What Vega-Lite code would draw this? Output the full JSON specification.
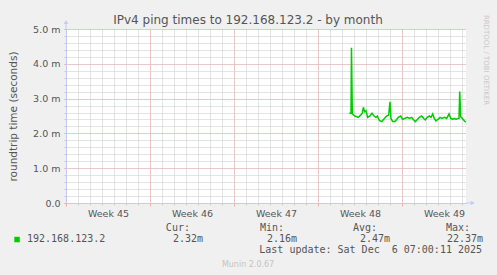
{
  "$schema": "https://vega.github.io/schema/vega-lite/v6.json",
  "width": 400,
  "height": 174,
  "autosize": {"type": "none"},
  "padding": {"left": 66, "top": 29, "right": 31, "bottom": 72},
  "background": "#F0F0F0",
  "view": {"fill": "#FFFFFF", "stroke": null},
  "title": {"text": "IPv4 ping times to 192.168.123.2 - by month", "font": "DejaVu Sans", "fontSize": 12, "fontWeight": "normal", "color": "#555555", "anchor": "middle", "dx": -18, "offset": -12},
  "datasets": {
    "ping": [
      {"day": 23.61, "rtt": 2.58}, {"day": 23.75, "rtt": 2.58}, {"day": 23.79, "rtt": 4.46}, {"day": 23.86, "rtt": 2.56},
      {"day": 24.08, "rtt": 2.50}, {"day": 24.36, "rtt": 2.46}, {"day": 24.56, "rtt": 2.53}, {"day": 24.69, "rtt": 2.58},
      {"day": 24.78, "rtt": 2.75}, {"day": 24.89, "rtt": 2.62}, {"day": 25.00, "rtt": 2.65}, {"day": 25.14, "rtt": 2.46},
      {"day": 25.33, "rtt": 2.50}, {"day": 25.50, "rtt": 2.58}, {"day": 25.67, "rtt": 2.50}, {"day": 25.83, "rtt": 2.46},
      {"day": 25.94, "rtt": 2.50}, {"day": 26.11, "rtt": 2.37}, {"day": 26.31, "rtt": 2.34}, {"day": 26.53, "rtt": 2.43},
      {"day": 26.72, "rtt": 2.50}, {"day": 26.89, "rtt": 2.53}, {"day": 27.00, "rtt": 2.91}, {"day": 27.08, "rtt": 2.43},
      {"day": 27.22, "rtt": 2.34}, {"day": 27.42, "rtt": 2.34}, {"day": 27.56, "rtt": 2.40}, {"day": 27.69, "rtt": 2.46},
      {"day": 27.89, "rtt": 2.50}, {"day": 28.06, "rtt": 2.40}, {"day": 28.22, "rtt": 2.43}, {"day": 28.44, "rtt": 2.46},
      {"day": 28.61, "rtt": 2.43}, {"day": 28.81, "rtt": 2.46}, {"day": 28.94, "rtt": 2.40}, {"day": 29.11, "rtt": 2.34},
      {"day": 29.28, "rtt": 2.40}, {"day": 29.44, "rtt": 2.46}, {"day": 29.64, "rtt": 2.50}, {"day": 29.81, "rtt": 2.43},
      {"day": 29.94, "rtt": 2.39}, {"day": 30.11, "rtt": 2.46}, {"day": 30.28, "rtt": 2.50}, {"day": 30.42, "rtt": 2.46},
      {"day": 30.56, "rtt": 2.56}, {"day": 30.69, "rtt": 2.43}, {"day": 30.83, "rtt": 2.36}, {"day": 31.00, "rtt": 2.40},
      {"day": 31.17, "rtt": 2.46}, {"day": 31.33, "rtt": 2.43}, {"day": 31.53, "rtt": 2.46}, {"day": 31.72, "rtt": 2.43},
      {"day": 31.92, "rtt": 2.56}, {"day": 32.06, "rtt": 2.43}, {"day": 32.22, "rtt": 2.40}, {"day": 32.36, "rtt": 2.43},
      {"day": 32.50, "rtt": 2.40}, {"day": 32.67, "rtt": 2.43}, {"day": 32.75, "rtt": 2.43}, {"day": 32.81, "rtt": 3.20},
      {"day": 32.89, "rtt": 2.48}, {"day": 33.03, "rtt": 2.43}, {"day": 33.17, "rtt": 2.37}, {"day": 33.31, "rtt": 2.32}
    ],
    "stats": [
      {"host": "192.168.123.2", "cur": "2.32m", "min": "2.16m", "avg": "2.47m", "max": "22.37m", "updated": "Last update: Sat Dec \u00a06 07:00:11 2025", "version": "Munin 2.0.67", "credit": "RRDTOOL / TOBI OETIKER"}
    ]
  },
  "resolve": {"axis": {"x": "independent", "y": "independent"}},
  "layer": [
    {
      "data": {"name": "ping"},
      "mark": {"type": "line", "opacity": 0},
      "encoding": {
        "x": {"field": "day", "type": "quantitative", "scale": {"domain": [0, 33.3333], "nice": false, "zero": false},
          "axis": {"orient": "bottom", "values": [0,1,2,3,4,5,6,7,8,9,10,11,12,13,14,15,16,17,18,19,20,21,22,23,24,25,26,27,28,29,30,31,32,33], "grid": true, "gridColor": "#C8C8C8", "gridDash": [1, 1], "labels": false, "ticks": true, "tickColor": "#C8C8C8", "tickSize": 2, "domain": false, "title": null}},
        "y": {"field": "rtt", "type": "quantitative", "scale": {"domain": [0, 5], "nice": false, "zero": true},
          "axis": {"orient": "left", "values": [0,0.2,0.4,0.6,0.8,1,1.2,1.4,1.6,1.8,2,2.2,2.4,2.6,2.8,3,3.2,3.4,3.6,3.8,4,4.2,4.4,4.6,4.8,5], "grid": true, "gridColor": "#C8C8C8", "gridDash": [1, 1], "labels": false, "ticks": true, "tickColor": "#C8C8C8", "tickSize": 2, "domain": false, "title": null}}
      }
    },
    {
      "data": {"name": "ping"},
      "mark": {"type": "line", "opacity": 0},
      "encoding": {
        "x": {"field": "day", "type": "quantitative",
          "axis": {"orient": "bottom", "values": [0, 7, 14, 21, 28], "grid": true, "gridColor": "#F4AAAA", "gridDash": [1, 1], "labels": false, "ticks": true, "tickColor": "#F4AAAA", "tickSize": 3, "domain": false, "title": null}},
        "y": {"field": "rtt", "type": "quantitative",
          "axis": {"orient": "left", "values": [0, 1, 2, 3, 4, 5], "grid": true, "gridColor": "#F4AAAA", "gridDash": [1, 1], "ticks": true, "tickColor": "#F4AAAA", "tickSize": 2, "domain": false,
            "labelExpr": "datum.value == 0 ? '0.0' : format(datum.value, '.1f') + ' m'", "labelFont": "DejaVu Sans", "labelFontSize": 9.5, "labelColor": "#555555", "labelPadding": 4,
            "title": "roundtrip time (seconds)", "titleFont": "DejaVu Sans", "titleFontSize": 10.5, "titleFontWeight": "normal", "titleColor": "#555555", "titlePadding": 14}}
      }
    },
    {
      "data": {"name": "ping"},
      "mark": {"type": "line", "color": "#00CC00", "strokeWidth": 1.5},
      "encoding": {
        "x": {"field": "day", "type": "quantitative",
          "axis": {"orient": "bottom", "values": [3.5, 10.5, 17.5, 24.5, 31.5], "labelExpr": "'Week ' + (45 + floor(datum.value / 7))", "grid": false, "ticks": false, "domain": true, "domainColor": "#C8C8F8", "domainWidth": 1, "labelFont": "DejaVu Sans", "labelFontSize": 9.5, "labelColor": "#555555", "labelPadding": 5, "title": null}},
        "y": {"field": "rtt", "type": "quantitative",
          "axis": {"orient": "left", "values": [], "grid": false, "ticks": false, "labels": false, "domain": true, "domainColor": "#C8C8F8", "domainWidth": 1, "title": null}}
      }
    },
    {
      "data": {"values": [{}]},
      "mark": {"type": "rule", "color": "#C8C8F8"},
      "encoding": {"x": {"datum": 0, "axis": null}, "y": {"datum": 5, "axis": null}, "y2": {"datum": 5.2}}
    },
    {
      "data": {"values": [{}]},
      "mark": {"type": "rule", "color": "#C8C8F8"},
      "encoding": {"x": {"datum": 33.3333, "axis": null}, "x2": {"datum": 33.9}, "y": {"datum": 0, "axis": null}}
    },
    {
      "data": {"values": [{}]},
      "mark": {"type": "point", "shape": "triangle-up", "filled": true, "color": "#C8C8F8", "size": 22, "opacity": 1},
      "encoding": {"x": {"datum": 0, "axis": null}, "y": {"datum": 5.2, "axis": null}}
    },
    {
      "data": {"values": [{}]},
      "mark": {"type": "point", "shape": "triangle-right", "filled": true, "color": "#C8C8F8", "size": 22, "opacity": 1},
      "encoding": {"x": {"datum": 33.9, "axis": null}, "y": {"datum": 0, "axis": null}}
    },
    {
      "data": {"values": [{}]},
      "mark": {"type": "point", "shape": "square", "filled": true, "color": "#00CC00", "size": 30, "opacity": 1},
      "encoding": {"x": {"datum": -4.08, "axis": null}, "y": {"datum": -1.05, "axis": null}}
    },
    {
      "data": {"values": [{}]},
      "mark": {"type": "text", "text": "Cur:", "font": "DejaVu Sans Mono", "fontSize": 10, "color": "#555555", "align": "right", "baseline": "alphabetic"},
      "encoding": {"x": {"datum": 10.33, "axis": null}, "y": {"datum": -0.805, "axis": null}}
    },
    {
      "data": {"values": [{}]},
      "mark": {"type": "text", "text": "Min:", "font": "DejaVu Sans Mono", "fontSize": 10, "color": "#555555", "align": "right", "baseline": "alphabetic"},
      "encoding": {"x": {"datum": 18.17, "axis": null}, "y": {"datum": -0.805, "axis": null}}
    },
    {
      "data": {"values": [{}]},
      "mark": {"type": "text", "text": "Avg:", "font": "DejaVu Sans Mono", "fontSize": 10, "color": "#555555", "align": "right", "baseline": "alphabetic"},
      "encoding": {"x": {"datum": 25.92, "axis": null}, "y": {"datum": -0.805, "axis": null}}
    },
    {
      "data": {"values": [{}]},
      "mark": {"type": "text", "text": "Max:", "font": "DejaVu Sans Mono", "fontSize": 10, "color": "#555555", "align": "right", "baseline": "alphabetic"},
      "encoding": {"x": {"datum": 33.67, "axis": null}, "y": {"datum": -0.805, "axis": null}}
    },
    {
      "data": {"name": "stats"},
      "mark": {"type": "text", "font": "DejaVu Sans Mono", "fontSize": 10, "color": "#555555", "align": "left", "baseline": "alphabetic"},
      "encoding": {"text": {"field": "host"}, "x": {"datum": -3.25, "axis": null}, "y": {"datum": -1.135, "axis": null}}
    },
    {
      "data": {"name": "stats"},
      "mark": {"type": "text", "font": "DejaVu Sans Mono", "fontSize": 10, "color": "#555555", "align": "right", "baseline": "alphabetic"},
      "encoding": {"text": {"field": "cur"}, "x": {"datum": 11.42, "axis": null}, "y": {"datum": -1.135, "axis": null}}
    },
    {
      "data": {"name": "stats"},
      "mark": {"type": "text", "font": "DejaVu Sans Mono", "fontSize": 10, "color": "#555555", "align": "right", "baseline": "alphabetic"},
      "encoding": {"text": {"field": "min"}, "x": {"datum": 19.25, "axis": null}, "y": {"datum": -1.135, "axis": null}}
    },
    {
      "data": {"name": "stats"},
      "mark": {"type": "text", "font": "DejaVu Sans Mono", "fontSize": 10, "color": "#555555", "align": "right", "baseline": "alphabetic"},
      "encoding": {"text": {"field": "avg"}, "x": {"datum": 27.0, "axis": null}, "y": {"datum": -1.135, "axis": null}}
    },
    {
      "data": {"name": "stats"},
      "mark": {"type": "text", "font": "DejaVu Sans Mono", "fontSize": 10, "color": "#555555", "align": "right", "baseline": "alphabetic"},
      "encoding": {"text": {"field": "max"}, "x": {"datum": 34.75, "axis": null}, "y": {"datum": -1.135, "axis": null}}
    },
    {
      "data": {"name": "stats"},
      "mark": {"type": "text", "font": "DejaVu Sans Mono", "fontSize": 10, "color": "#555555", "align": "right", "baseline": "alphabetic"},
      "encoding": {"text": {"field": "updated"}, "x": {"datum": 34.67, "axis": null}, "y": {"datum": -1.437, "axis": null}}
    },
    {
      "data": {"name": "stats"},
      "mark": {"type": "text", "font": "DejaVu Sans", "fontSize": 8, "color": "#C4C4C4", "align": "center", "baseline": "alphabetic"},
      "encoding": {"text": {"field": "version"}, "x": {"datum": 15.17, "axis": null}, "y": {"datum": -1.839, "axis": null}}
    },
    {
      "data": {"name": "stats"},
      "mark": {"type": "text", "font": "DejaVu Sans", "fontSize": 7, "color": "#C8C8C8", "align": "center", "baseline": "middle", "angle": 90},
      "encoding": {"text": {"field": "credit"}, "x": {"datum": 35.0, "axis": null}, "y": {"datum": 4.11, "axis": null}}
    }
  ]
}
